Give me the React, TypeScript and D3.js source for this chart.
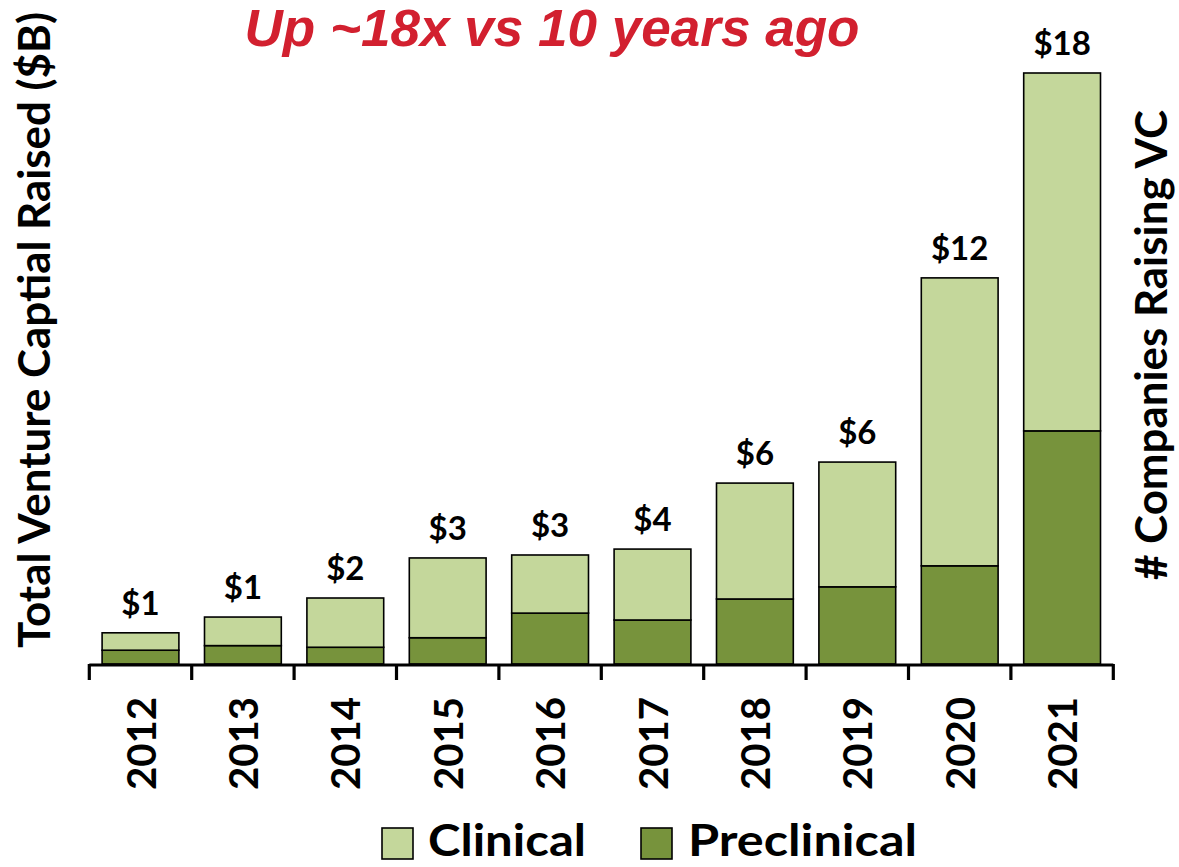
import React from "react";
import * as d3 from "d3";

const years = ["2012", "2013", "2014", "2015", "2016", "2017", "2018", "2019", "2020", "2021"];
const preclinical = [0.42, 0.56, 0.51, 0.8, 1.55, 1.34, 1.98, 2.35, 2.99, 7.1];
const clinical = [0.53, 0.87, 1.5, 2.43, 1.77, 2.16, 3.53, 3.8, 8.77, 10.9];
const totalLabels = ["$1", "$1", "$2", "$3", "$3", "$4", "$6", "$6", "$12", "$18"];
const seriesKeys = ["preclinical", "clinical"];
const seriesNames: Record<string, string> = { preclinical: "Preclinical", clinical: "Clinical" };
const colors: Record<string, string> = { preclinical: "#77933c", clinical: "#c4d79b" };
const yDomainMax = 18;

const W = 1179;
const H = 867;
const FONT = "Lato, 'Open Sans', sans-serif";

export default function App() {
  const x = d3.scaleBand<string>().domain(years).range([89.3, 1113.3]).paddingInner(0.25).paddingOuter(0.125);
  const y = d3.scaleLinear().domain([0, yDomainMax]).range([664, 73]);
  const rows = years.map((yr, i) => ({ year: yr, preclinical: preclinical[i], clinical: clinical[i] }));
  const stacked = d3.stack<any>().keys(seriesKeys)(rows);
  const step = x.step();
  const r0 = x.range()[0];
  const tickXs = d3.range(years.length + 1).map((i) => r0 + i * step);
  const baseY = y(0);

  return (
    <svg width={W} height={H} style={{ position: "absolute", left: 0, top: 0, background: "#fff" }}>
      {/* Title */}
      <text
        x={552}
        y={46}
        textAnchor="middle"
        fontFamily="'Liberation Sans', Arial, sans-serif"
        fontWeight="bold"
        fontStyle="italic"
        fontSize={51}
        fill="#d2202f"
        textLength={615}
        lengthAdjust="spacingAndGlyphs"
      >
        Up ~18x vs 10 years ago
      </text>

      {/* Bars */}
      {stacked.map((s) => (
        <g key={s.key}>
          {s.map((d: any, i: number) => (
            <rect
              key={i}
              x={x(years[i])}
              y={y(d[1])}
              width={x.bandwidth()}
              height={y(d[0]) - y(d[1])}
              fill={colors[s.key]}
              stroke="#000"
              strokeWidth={1.6}
            />
          ))}
        </g>
      ))}

      {/* Total labels */}
      {years.map((yr, i) => {
        const top = stacked[stacked.length - 1][i][1];
        return (
          <text
            key={yr}
            x={(x(yr) as number) + x.bandwidth() / 2}
            y={y(top) - 18}
            textAnchor="middle"
            fontFamily={FONT}
            fontWeight="bold"
            fontSize={33}
            fill="#000"
          >
            {totalLabels[i]}
          </text>
        );
      })}

      {/* X axis */}
      <line x1={tickXs[0]} x2={tickXs[tickXs.length - 1]} y1={baseY + 1} y2={baseY + 1} stroke="#000" strokeWidth={3.2} />
      {tickXs.map((tx, i) => (
        <line key={i} x1={tx} x2={tx} y1={baseY} y2={baseY + 16} stroke="#000" strokeWidth={3.2} />
      ))}
      {years.map((yr) => {
        const cx = (x(yr) as number) + x.bandwidth() / 2 + 15;
        return (
          <text
            key={yr}
            transform={`translate(${cx},${697}) rotate(-90)`}
            textAnchor="end"
            fontFamily={FONT}
            fontWeight="bold"
            fontSize={41}
            fill="#000"
            textLength={93}
            lengthAdjust="spacingAndGlyphs"
          >
            {yr}
          </text>
        );
      })}

      {/* Left axis title */}
      <text
        transform={`translate(50,330) rotate(-90)`}
        textAnchor="middle"
        fontFamily={FONT}
        fontWeight="bold"
        fontSize={44}
        fill="#000"
        textLength={636}
        lengthAdjust="spacingAndGlyphs"
      >
        Total Venture Captial Raised ($B)
      </text>

      {/* Right axis title */}
      <text
        transform={`translate(1167,345) rotate(-90)`}
        textAnchor="middle"
        fontFamily={FONT}
        fontWeight="bold"
        fontSize={43}
        fill="#000"
        textLength={470}
        lengthAdjust="spacingAndGlyphs"
      >
        # Companies Raising VC
      </text>

      {/* Legend */}
      {["clinical", "preclinical"].map((k, i) => {
        const sx = [382, 641][i];
        const tx = [428, 688][i];
        const tl = [158, 229][i];
        return (
          <g key={k}>
            <rect x={sx} y={828} width={31} height={31} fill={colors[k]} stroke="#000" strokeWidth={1.6} />
            <text
              x={tx}
              y={856}
              fontFamily={FONT}
              fontWeight="bold"
              fontSize={44}
              fill="#000"
              textLength={tl}
              lengthAdjust="spacingAndGlyphs"
            >
              {seriesNames[k]}
            </text>
          </g>
        );
      })}
    </svg>
  );
}
